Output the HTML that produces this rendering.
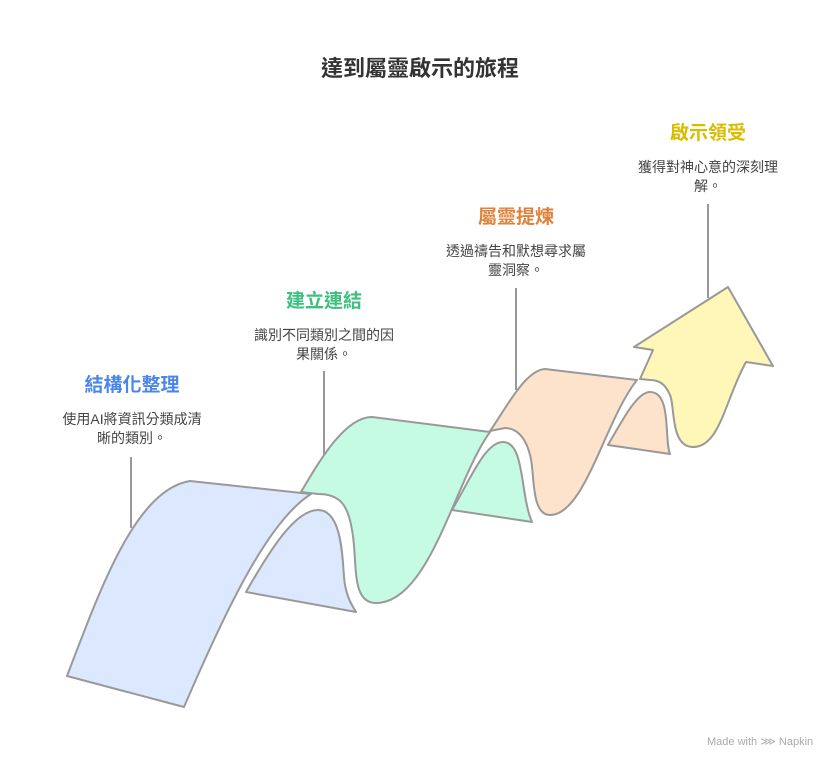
<!DOCTYPE html>
<html><head><meta charset="utf-8"><style>
html,body{margin:0;padding:0;background:#fff;}
svg{display:block;}
text{font-family:"Liberation Sans","Noto Sans CJK TC",sans-serif;}
</style></head><body>
<svg width="840" height="769" viewBox="0 0 840 769" xmlns="http://www.w3.org/2000/svg">
<rect width="840" height="769" fill="#fff"/>
<text x="420" y="76" text-anchor="middle" font-size="22" font-weight="bold" fill="#333">達到屬靈啟示的旅程</text>

<g stroke="#999" stroke-width="2" fill="none">
<line x1="131" y1="457" x2="131" y2="528"/>
<line x1="324" y1="371" x2="324" y2="458"/>
<line x1="516" y1="288" x2="516" y2="390"/>
<line x1="708" y1="204" x2="708" y2="298"/>
</g>

<g stroke="#999" stroke-width="2" stroke-linejoin="round">
<!-- blue back -->
<path d="M246,592 C270,550 295,510 318,510 C345,510 342,570 345,585 C348,600 352,605 356,612 Z" fill="#dce8fd"/>
<!-- blue front -->
<path d="M67,676 C100,590 135,490 190,481 L311,494 C270,520 230,600 184,707 Z" fill="#dce8fd"/>
<!-- green back -->
<path d="M452,510 C470,480 485,442 503,442 C525,442 520,495 532,522 Z" fill="#c6fbe3"/>
<!-- green front -->
<path d="M301,492 C320,460 345,417 372,417 L490,432 C455,480 430,603 376,603 C350,603 358,560 352,530 C348,505 340,494 318,494 Z" fill="#c6fbe3"/>
<!-- peach back -->
<path d="M608,445 C625,415 638,392 650,392 C672,392 664,440 670,454 Z" fill="#fde3cc"/>
<!-- peach front -->
<path d="M490,431 C505,410 525,370 545,369 L637,380 C605,420 585,515 550,515 C530,515 535,470 530,455 C525,435 515,428 505,428 Z" fill="#fde3cc"/>
<!-- yellow arrow -->
<path d="M640,379 L653,350 L634,347 L728,287 L773,366 L746,362 C725,400 720,447 693,447 C670,447 675,405 670,395 C665,383 658,380 650,380 Z" fill="#fff7b8"/>
</g>

<g text-anchor="middle">
<text x="132" y="391" font-size="19" font-weight="bold" fill="#4a86e8">結構化整理</text>
<text x="132" y="424" font-size="14" fill="#444">使用AI將資訊分類成清</text>
<text x="132" y="443" font-size="14" fill="#444">晰的類別。</text>

<text x="324" y="307" font-size="19" font-weight="bold" fill="#3dbf7f">建立連結</text>
<text x="324" y="340" font-size="14" fill="#444">識別不同類別之間的因</text>
<text x="324" y="359" font-size="14" fill="#444">果關係。</text>

<text x="516" y="223" font-size="19" font-weight="bold" fill="#e0813a">屬靈提煉</text>
<text x="516" y="256" font-size="14" fill="#444">透過禱告和默想尋求屬</text>
<text x="516" y="275" font-size="14" fill="#444">靈洞察。</text>

<text x="708" y="139" font-size="19" font-weight="bold" fill="#d9bd00">啟示領受</text>
<text x="708" y="172" font-size="14" fill="#444">獲得對神心意的深刻理</text>
<text x="708" y="191" font-size="14" fill="#444">解。</text>
</g>
<text x="707" y="745" font-size="11" fill="#aaa">Made with ⋙ Napkin</text>
</svg>
</body></html>
